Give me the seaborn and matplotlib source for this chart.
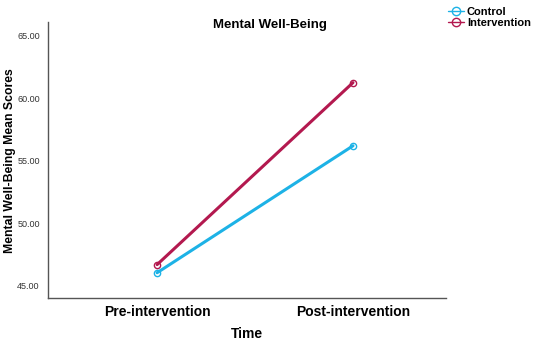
import matplotlib
matplotlib.use("Agg")
import matplotlib.pyplot as plt
import seaborn as sns
import pandas as pd
from matplotlib.lines import Line2D

times = ["Pre-intervention", "Post-intervention"]
groups = ["Control", "Intervention"]
control = [46.05, 56.2]
intervention = [46.7, 61.25]
yticks = [45, 50, 55, 60, 65]

df = pd.DataFrame({
    "Time": times * 2,
    "Group": ["Control"] * 2 + ["Intervention"] * 2,
    "Score": control + intervention,
})

sns.set_style("white")
plt.rcParams['font.family'] = ['Liberation Sans', 'DejaVu Sans']
plt.rcParams['text.color'] = 'black'
plt.rcParams['axes.labelcolor'] = 'black'
plt.rcParams['xtick.color'] = 'black'
plt.rcParams['ytick.color'] = 'black'

colors = {"Control": "#1DB2E6", "Intervention": "#B3194F"}

fig = plt.figure(figsize=(5.5, 3.42), dpi=100)
ax = fig.add_axes([48/550, 1 - 298/342, (446-48)/550, (298-22)/342])

sns.lineplot(data=df, x="Time", y="Score", hue="Group", palette=colors,
             marker="o", markersize=4.5, markerfacecolor="none", markeredgewidth=1.0,
             linewidth=2.2, ax=ax, legend=False, sort=False)
for line in ax.lines:
    line.set_markeredgecolor(line.get_color())

ax.set_xlim(-0.557, 1.475)
ax.set_ylim(44.03, 66.1)
ax.set_yticks(yticks)
ax.set_yticklabels([f"{v:.2f}" for v in yticks], fontsize=6.5, color="#333333")
ax.set_xticks([0, 1])
ax.set_xticklabels(times, fontsize=10, fontweight="bold")
ax.tick_params(axis="both", length=0, pad=6)
ax.tick_params(axis="x", pad=5)
for s in ["top", "right"]:
    ax.spines[s].set_visible(False)
for s in ["left", "bottom"]:
    ax.spines[s].set_color("#555555")
    ax.spines[s].set_linewidth(1.0)

ax.set_xlabel("")
ax.set_ylabel("")
fig.text(247/550, 1 - 334/342, "Time", ha="center", va="center",
         fontsize=10, fontweight="bold")
fig.text(10/550, 1 - 161/342, "Mental Well-Being Mean Scores", ha="center", va="center",
         rotation=90, fontsize=8.8, fontweight="bold")
fig.text(270/550, 1 - 25/342, "Mental Well-Being", ha="center", va="center",
         fontsize=9.5, fontweight="bold")

handles = [Line2D([0], [0], color=colors[g], marker="o", markersize=6,
                  markerfacecolor="none", linewidth=1.0) for g in groups]
fig.legend(handles, groups, loc="upper left", bbox_to_anchor=(438/550, 1.01),
           frameon=False, handlelength=1.4, handletextpad=0.3,
           labelspacing=0.15, prop={"weight": "bold", "size": 8})

fig.savefig("out.png", dpi=100)
